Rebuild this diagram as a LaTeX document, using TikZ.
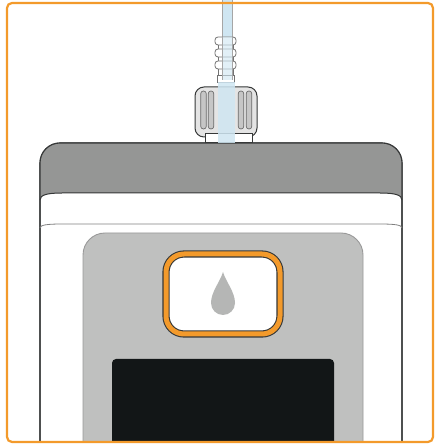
\documentclass[tikz,border=0pt]{standalone}
\usepackage{tikz}
\usetikzlibrary{arrows, positioning}

\definecolor{frameorange}{HTML}{F39A2B}
\definecolor{bandgray}{HTML}{959695}
\definecolor{panelgray}{HTML}{BFC0BF}
\definecolor{screenblack}{HTML}{121617}
\definecolor{dropgray}{HTML}{B5B6B5}
\definecolor{capgray}{HTML}{E4E4E4}
\definecolor{groovegray}{HTML}{C6C6C6}
\definecolor{fluidblue}{HTML}{CFE6F2}
\definecolor{outline}{HTML}{363838}

\begin{document}
\begin{tikzpicture}[x=1pt, y=1pt,
        frame/.style={draw=frameorange, line width=2.2pt, rounded corners=5pt},
        body/.style={draw=outline, line width=1.1pt, fill=white},
        band/.style={fill=bandgray},
        panel/.style={draw=gray!80, line width=0.9pt, fill=panelgray},
        rib/.style={draw=gray!90!black, line width=0.8pt, fill=white, rounded corners=3pt},
        groove/.style={draw=gray!85!black, line width=0.7pt, fill=groovegray, rounded corners=2.7pt},
        tube/.style={draw=gray!70, line width=0.8pt, fill=fluidblue}
        ]
        \useasboundingbox (0,0) rectangle (436,444);

        % Device, kept inside the frame
        \begin{scope}
        \clip[rounded corners=5pt] (7,2) rectangle (433,441);
        \path[body] (40,-5) -- (40,281) arc[start angle=180, end angle=90, radius=20]
            -- (382,301) arc[start angle=90, end angle=0, radius=20] -- (402,-5);
        \path[band] (40,244) -- (40,281) arc[start angle=180, end angle=90, radius=20]
            -- (382,301) arc[start angle=90, end angle=0, radius=20] -- (402,244)
            .. controls (402,249) and (395,251) .. (380,251) -- (62,251)
            .. controls (47,251) and (40,249) .. (40,244) -- cycle;
        \draw[body, fill=none] (40,-5) -- (40,281) arc[start angle=180, end angle=90, radius=20]
            -- (382,301) arc[start angle=90, end angle=0, radius=20] -- (402,-5);
        \draw[outline, line width=1pt] (40,244) .. controls (40,249) and (47,251) .. (62,251)
            -- (380,251) .. controls (395,251) and (402,249) .. (402,244);
        \draw[gray, line width=0.8pt] (40,216) .. controls (40,219) and (47,220) .. (62,220)
            -- (380,220) .. controls (395,220) and (402,219) .. (402,216);

        % Front panel
        \path[panel] (83,-5) -- (83,189) arc[start angle=180, end angle=90, radius=22]
            -- (341,211) arc[start angle=90, end angle=0, radius=22] -- (363,-5);

        % Button with drop
        \draw[draw=outline, line width=7.2pt, fill=white, rounded corners=18pt] (166,110) rectangle (280,190);
        \draw[draw=frameorange, line width=5pt, rounded corners=18pt] (166,110) rectangle (280,190);
        \fill[dropgray] (223,172) .. controls (226,162) and (235,152) .. (235,141)
            arc[start angle=0, end angle=-180, radius=12]
            .. controls (211,152) and (220,162) .. (223,172) -- cycle;

        % Screen
        \fill[screenblack, rounded corners=4pt] (112,-10) rectangle (334,85);
        \end{scope}

        % Tube and ribbed sleeve
        \draw[tube] (222,450) -- (222,362) -- (232,362) -- (232,450);
        \draw[rib, rounded corners=0pt] (218,364) rectangle (233,407);
        \foreach \y in {399,387,375}
            \draw[rib] (215,\y) rectangle (236,\y+8);
        \draw[rib, rounded corners=0pt] (217,362) rectangle (234,369);
        \fill[fluidblue, fill opacity=0.6] (222,364) rectangle (232,407);
        \draw[gray!70, line width=0.7pt] (222,364) -- (222,407) (232,364) -- (232,407);

        % Knurled cap
        \draw[draw=outline, line width=1pt, fill=capgray, rounded corners=9pt] (195,307) rectangle (257,357);
        \foreach \x in {203.5,211,241,249}
            \draw[groove] (\x-2.8,315) rectangle (\x+2.8,353);
        \draw[draw=outline, line width=1pt, fill=white] (205,301) rectangle (252,310);
        \fill[fluidblue, fill opacity=0.85] (218,301) rectangle (235,362);

        % Frame
        \draw[frame] (7,2) rectangle (433,441);
    \end{tikzpicture}
\end{document}
